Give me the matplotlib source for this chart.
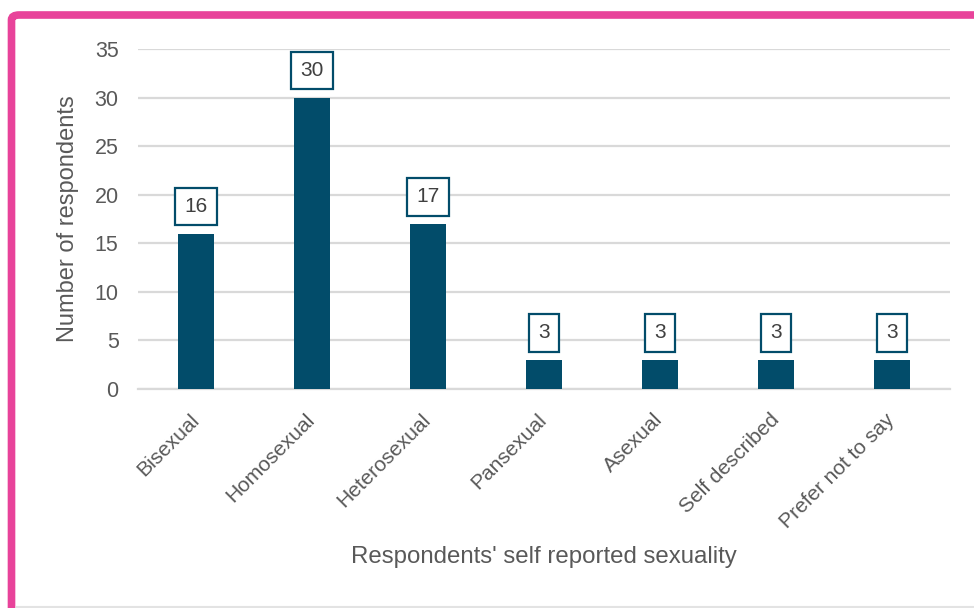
import matplotlib
matplotlib.use("Agg")
import matplotlib.pyplot as plt
from matplotlib.patches import FancyBboxPatch

categories = ["Bisexual", "Homosexual", "Heterosexual", "Pansexual",
              "Asexual", "Self described", "Prefer not to say"]
counts = [16, 30, 17, 3, 3, 3, 3]
y_ticks = [0, 5, 10, 15, 20, 25, 30, 35]

BAR = "#024C6A"
GRID = "#D9D9D9"
TEXT = "#595959"
PINK = "#E8439A"

plt.rcParams["font.family"] = ["Liberation Sans", "DejaVu Sans"]

fig = plt.figure(figsize=(9.74, 6.08), dpi=100)
fig.patch.set_facecolor("white")

# pink frame around the chart (runs off the right and bottom edges)
frame = FancyBboxPatch((11.5 / 974, -0.05), 1.2, 1 - 15 / 608 + 0.05,
                       boxstyle="round,pad=0,rounding_size=0.008",
                       transform=fig.transFigure, facecolor="none",
                       edgecolor=PINK, linewidth=5.5, zorder=0)
fig.patches.append(frame)
fig.add_artist(plt.Line2D([17 / 974, 1], [1.5 / 608, 1.5 / 608],
                          transform=fig.transFigure, color="#E3E3E3", lw=1.5))

ax = fig.add_axes([138 / 974, 219 / 608, 812 / 974, 340 / 608])
x = list(range(len(categories)))
ax.bar(x, counts, width=0.31, color=BAR, zorder=3)

ax.set_xlim(-0.5, len(categories) - 0.5)
ax.set_ylim(0, 35)
ax.set_yticks(y_ticks)
ax.set_yticklabels([str(t) for t in y_ticks], fontsize=15.5, color=TEXT)
ax.set_xticks(x)
ax.set_xticklabels(categories, rotation=45, ha="right", va="center",
                   rotation_mode="anchor", fontsize=15, color=TEXT)
ax.tick_params(axis="y", length=0, pad=14)
ax.tick_params(axis="x", length=0, pad=20)

ax.yaxis.grid(True, color=GRID, linewidth=1.6, zorder=0)
ax.set_axisbelow(True)
for side in ["left", "right", "top"]:
    ax.spines[side].set_visible(False)
ax.spines["bottom"].set_color(GRID)
ax.spines["bottom"].set_linewidth(1.6)

for xi, v in zip(x, counts):
    ax.annotate(str(v), (xi, v), xytext=(0, 19.5), textcoords="offset points",
                ha="center", va="center", fontsize=15, color="#404040",
                bbox=dict(boxstyle="square,pad=0.45", fc="white", ec=BAR, lw=1.6),
                zorder=5)

ax.set_ylabel("Number of respondents", fontsize=17, color=TEXT, labelpad=11)
ax.set_xlabel("Respondents' self reported sexuality", fontsize=17.3, color=TEXT,
              labelpad=10)

fig.savefig("out.png", dpi=100, facecolor="white")
